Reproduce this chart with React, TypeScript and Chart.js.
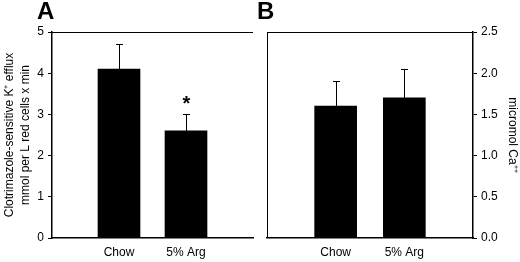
import React, { useEffect, useRef } from "react";
import { Chart, registerables } from "chart.js";

Chart.register(...registerables);

// ---- data ----
const categories = ["Chow", "5% Arg"];
const effluxMeans = [4.1, 2.6];
const effluxErrors = [0.6, 0.4];
const effluxMarks = ["", "*"];
const calciumMeans = [1.6, 1.7];
const calciumErrors = [0.3, 0.35];
const calciumMarks = ["", ""];
const effluxTicks = { min: 0, max: 5, step: 1 };
const calciumTicks = { min: 0, max: 2.5, step: 0.5 };
const effluxTitle = ["Clotrimazole-sensitive K\u207A efflux", "mmol per L red cells x min"];
const calciumTitle = "micromol Ca\u207A\u207A";

const FONT = "'Liberation Sans', Arial, Helvetica, sans-serif";

// category slots: empty spacer on each side so bars sit at 1/3 and 2/3
const slotLabels = ["", ...categories, ""];
const padSeries = (arr: number[]) => [null, ...arr, null];

function makePlugins(means: number[], errors: number[], marks: string[], sides: { top?: boolean; left?: boolean }) {
  return [
    {
      id: "frame",
      afterDraw(chart: any) {
        const { ctx, chartArea } = chart;
        ctx.save();
        ctx.strokeStyle = "#000";
        ctx.lineWidth = 1;
        ctx.beginPath();
        if (sides.top) {
          ctx.moveTo(chartArea.left, chartArea.top + 0.5);
          ctx.lineTo(chartArea.right, chartArea.top + 0.5);
        }
        if (sides.left) {
          ctx.moveTo(chartArea.left + 0.5, chartArea.top);
          ctx.lineTo(chartArea.left + 0.5, chartArea.bottom);
        }
        ctx.stroke();
        ctx.restore();
      },
    },
    {
      id: "errorBars",
      afterDatasetsDraw(chart: any) {
        const { ctx } = chart;
        const xs = chart.scales.x;
        const ys = chart.scales.y;
        ctx.save();
        ctx.strokeStyle = "#000";
        ctx.fillStyle = "#000";
        ctx.lineWidth = 1;
        means.forEach((m, i) => {
          const x = Math.round(xs.getPixelForValue(i + 1)) + 0.5;
          const y0 = ys.getPixelForValue(m);
          const y1 = ys.getPixelForValue(m + errors[i]);
          ctx.beginPath();
          ctx.moveTo(x, y0);
          ctx.lineTo(x, Math.round(y1) + 0.5);
          ctx.moveTo(x - 3.5, Math.round(y1) + 0.5);
          ctx.lineTo(x + 3.5, Math.round(y1) + 0.5);
          ctx.stroke();
          if (marks[i]) {
            ctx.font = `bold 20px ${FONT}`;
            ctx.textAlign = "center";
            ctx.textBaseline = "middle";
            ctx.fillText(marks[i], x, y1 - 10);
          }
        });
        ctx.restore();
      },
    },
  ];
}

function buildConfig(opts: {
  means: number[];
  errors: number[];
  marks: string[];
  ticks: { min: number; max: number; step: number };
  title: string | string[];
  titlePad: number;
  position: "left" | "right";
  axisWidth: number;
  decimals: number;
  frame: { top?: boolean; left?: boolean };
}): any {
  return {
    type: "bar",
    data: {
      labels: slotLabels,
      datasets: [
        {
          data: padSeries(opts.means),
          backgroundColor: "#000",
          borderWidth: 0,
          barThickness: 42,
        },
      ],
    },
    options: {
      animation: false,
      responsive: false,
      maintainAspectRatio: false,
      layout: { padding: { top: 32, left: 0, right: 0, bottom: 0 } },
      plugins: { legend: { display: false }, tooltip: { enabled: false } },
      scales: {
        x: {
          type: "category",
          offset: false,
          grid: { display: false, drawTicks: false },
          border: { display: true, color: "#000", width: 1.5 },
          ticks: {
            color: "#000",
            font: { family: FONT, size: 12 },
            padding: 7,
            maxRotation: 0,
            autoSkip: false,
          },
          afterFit: (s: any) => {
            s.height = 24;
          },
        },
        y: {
          position: opts.position,
          min: opts.ticks.min,
          max: opts.ticks.max,
          grid: {
            drawOnChartArea: false,
            drawTicks: true,
            tickLength: 4,
            color: "#000",
          },
          border: { display: true, color: "#000", width: 1.5 },
          ticks: {
            stepSize: opts.ticks.step,
            color: "#000",
            font: { family: FONT, size: 12 },
            padding: 4,
            callback: (v: any) => Number(v).toFixed(opts.decimals),
          },
          title: {
            display: true,
            text: opts.title,
            color: "#000",
            font: { family: FONT, size: 12, lineHeight: 1.35 },
            padding: { top: opts.titlePad, bottom: 0 },
          },
          afterFit: (s: any) => {
            s.width = opts.axisWidth;
          },
        },
      },
    },
    plugins: makePlugins(opts.means, opts.errors, opts.marks, opts.frame),
  };
}

function Panel({ config, left }: { config: any; left: number }) {
  const ref = useRef<HTMLCanvasElement>(null);
  useEffect(() => {
    const chart = new Chart(ref.current as HTMLCanvasElement, config);
    return () => chart.destroy();
  }, [config]);
  return (
    <div style={{ position: "absolute", left, top: 0, width: 260, height: 262 }}>
      <canvas ref={ref} width={260} height={262} style={{ width: 260, height: 262 }} />
    </div>
  );
}

const leftConfig = buildConfig({
  means: effluxMeans,
  errors: effluxErrors,
  marks: effluxMarks,
  ticks: effluxTicks,
  title: effluxTitle,
  titlePad: 1.5,
  position: "left",
  axisWidth: 52,
  decimals: 0,
  frame: { top: true },
});

const rightConfig = buildConfig({
  means: calciumMeans,
  errors: calciumErrors,
  marks: calciumMarks,
  ticks: calciumTicks,
  title: calciumTitle,
  titlePad: 0,
  position: "right",
  axisWidth: 47,
  decimals: 1,
  frame: { top: true, left: true },
});

const labelStyle: React.CSSProperties = {
  position: "absolute",
  top: -1,
  fontFamily: FONT,
  fontWeight: "bold",
  fontSize: 24,
  lineHeight: "24px",
  color: "#000",
};

export default function App() {
  return (
    <div style={{ position: "absolute", left: 0, top: 0, width: 520, height: 262, background: "#fff", overflow: "hidden" }}>
      <Panel config={leftConfig} left={0} />
      <Panel config={rightConfig} left={260} />
      <div style={{ ...labelStyle, left: 37 }}>A</div>
      <div style={{ ...labelStyle, left: 257 }}>B</div>
    </div>
  );
}
